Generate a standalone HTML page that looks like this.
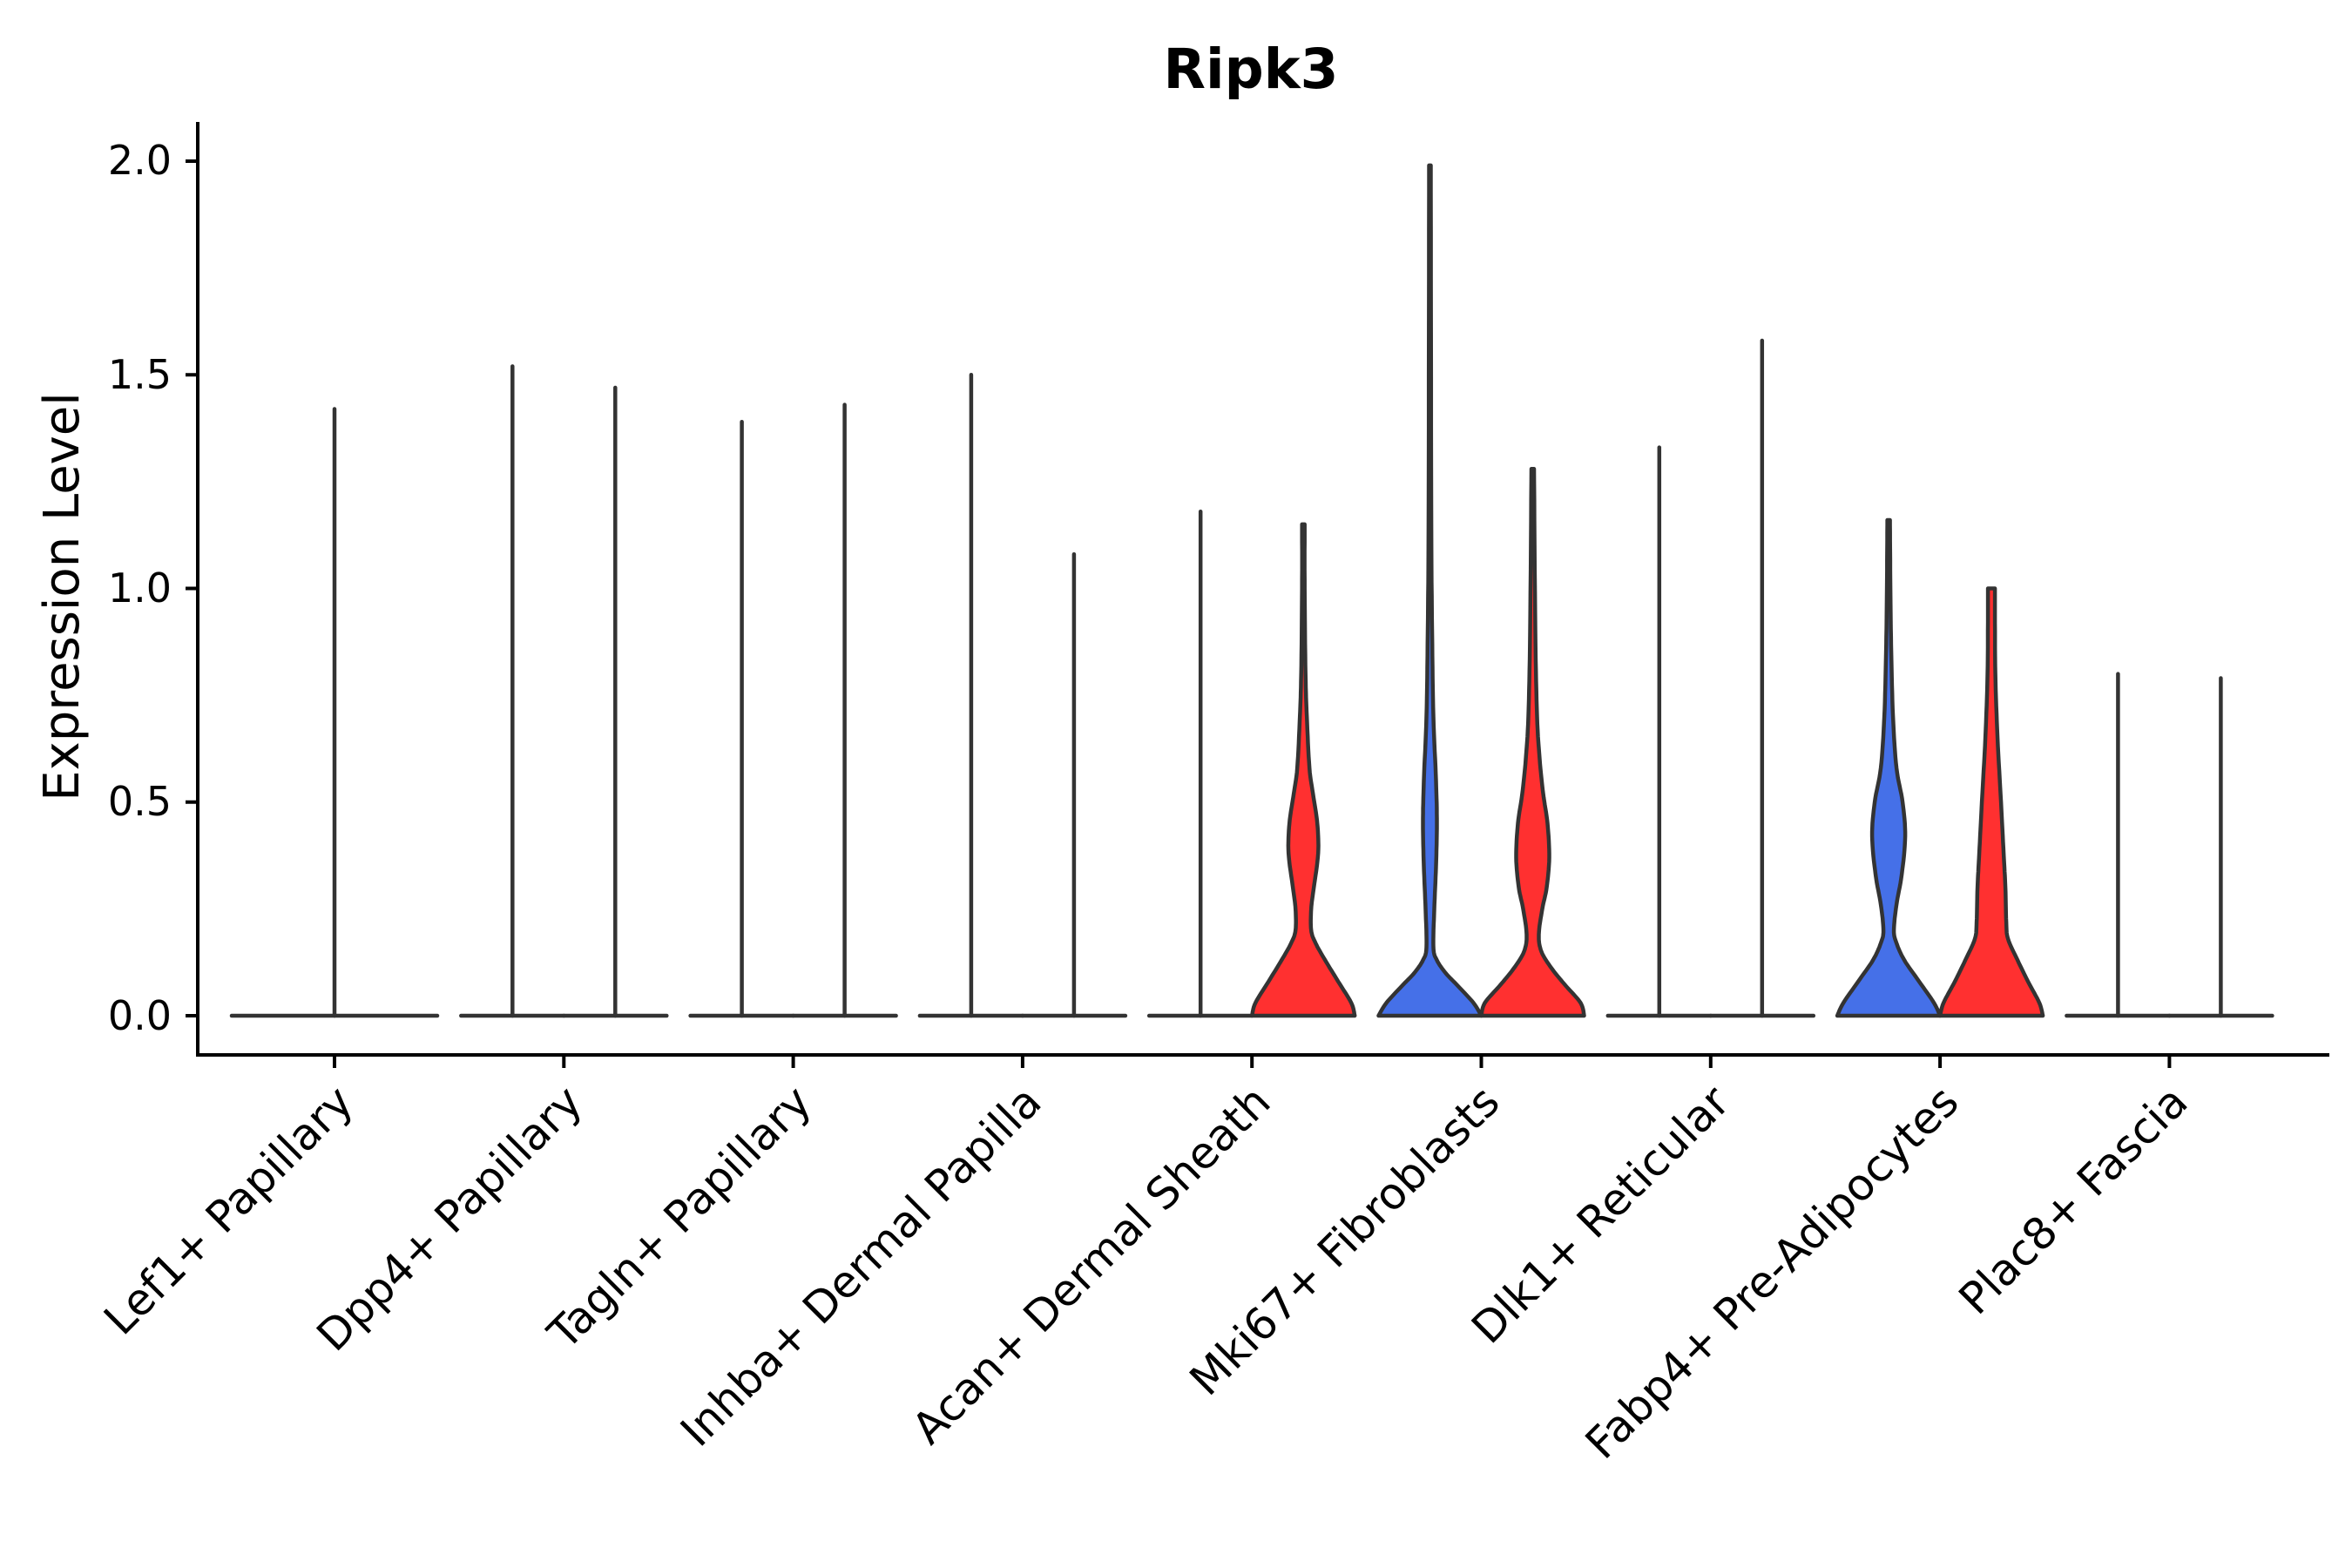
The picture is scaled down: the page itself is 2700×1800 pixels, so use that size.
<!DOCTYPE html>
<html><head><meta charset="utf-8"><style>
html,body{margin:0;padding:0;background:#fff;}
svg{display:block;}
text{font-family:"DejaVu Sans","Liberation Sans",sans-serif;fill:#000;}
</style></head><body>
<svg id="s" width="2700" height="1800" viewBox="0 0 2700 1800" xmlns="http://www.w3.org/2000/svg">
<rect width="2700" height="1800" fill="#fff"/>
<text x="1436" y="101" font-size="63" font-weight="bold" text-anchor="middle">Ripk3</text>
<text transform="translate(90,685) rotate(-90)" font-size="56" text-anchor="middle">Expression Level</text>
<g font-size="46" text-anchor="end">
<text x="197" y="1182">0.0</text>
<text x="197" y="936">0.5</text>
<text x="197" y="691">1.0</text>
<text x="197" y="446">1.5</text>
<text x="197" y="200">2.0</text>
</g>
<g stroke="#000" stroke-width="4">
<line x1="227" y1="140" x2="227" y2="1213"/>
<line x1="225" y1="1211" x2="2674" y2="1211"/>
<line x1="213" y1="1166" x2="227" y2="1166"/>
<line x1="213" y1="920.75" x2="227" y2="920.75"/>
<line x1="213" y1="675.5" x2="227" y2="675.5"/>
<line x1="213" y1="430.25" x2="227" y2="430.25"/>
<line x1="213" y1="185" x2="227" y2="185"/>
</g>
<g id="xt" stroke="#000" stroke-width="4"></g>
<g id="vio"></g>
<g font-size="50" text-anchor="end">
<text transform="translate(408,1268) rotate(-45)">Lef1+ Papillary</text>
<text transform="translate(671,1268) rotate(-45)">Dpp4+ Papillary</text>
<text transform="translate(934,1268) rotate(-45)">Tagln+ Papillary</text>
<text transform="translate(1198,1268) rotate(-45)">Inhba+ Dermal Papilla</text>
<text transform="translate(1461,1268) rotate(-45)">Acan+ Dermal Sheath</text>
<text transform="translate(1724,1268) rotate(-45)">Mki67+ Fibroblasts</text>
<text transform="translate(1988,1268) rotate(-45)">Dlk1+ Reticular</text>
<text transform="translate(2251,1268) rotate(-45)">Fabp4+ Pre-Adipocytes</text>
<text transform="translate(2514,1268) rotate(-45)">Plac8+ Fascia</text>
</g>
</svg>
<script>
(function(){
var NS="http://www.w3.org/2000/svg";
function Y(v){return 1166-490.5*v;}
var xt=document.getElementById('xt'), g=document.getElementById('vio');
function C(i){return 384+263.3*i;}
for(var i=0;i<9;i++){var l=document.createElementNS(NS,'line');l.setAttribute('x1',C(i));l.setAttribute('x2',C(i));l.setAttribute('y1',1211);l.setAttribute('y2',1226);xt.appendChild(l);}
function el(n,a){var e=document.createElementNS(NS,n);for(var k in a)e.setAttribute(k,a[k]);g.appendChild(e);return e;}
var SW=4.5;
function flat(cx,hw,top){
 el('line',{x1:cx-hw,y1:1166,x2:cx+hw,y2:1166,stroke:'#333','stroke-width':SW,'stroke-linecap':'round'});
 el('line',{x1:cx,y1:1166,x2:cx,y2:Y(top),stroke:'#333','stroke-width':SW,'stroke-linecap':'round'});
}
function cr(p0,p1,p2,p3,t){var t2=t*t,t3=t2*t;return 0.5*((2*p1)+(-p0+p2)*t+(2*p0-5*p1+4*p2-p3)*t2+(-p0+3*p1-3*p2+p3)*t3);}
function vio(cx,prof,col){
 var pts=[],n=prof.length;
 for(var k=0;k<n-1;k++){
  var a=prof[Math.max(k-1,0)],b=prof[k],c=prof[k+1],d=prof[Math.min(k+2,n-1)];
  for(var j=0;j<8;j++){var t=j/8;pts.push([cr(a[0],b[0],c[0],d[0],t),Math.max(0.8,cr(a[1],b[1],c[1],d[1],t))]);}
 }
 pts.push(prof[n-1]);
 var s='M'+(cx-pts[0][1])+','+Y(pts[0][0]);
 for(var k=1;k<pts.length;k++)s+='L'+(cx-pts[k][1]).toFixed(1)+','+Y(pts[k][0]).toFixed(1);
 for(var k=pts.length-1;k>=0;k--)s+='L'+(cx+pts[k][1]).toFixed(1)+','+Y(pts[k][0]).toFixed(1);
 s+='Z';
 el('path',{d:s,fill:col,stroke:'#333','stroke-width':SW,'stroke-linejoin':'round'});
}
var B='#4570E8',R='#FF3030';
flat(C(0),118,1.42);
flat(C(1)-59,59,1.52);flat(C(1)+59,59,1.47);
flat(C(2)-59,59,1.39);flat(C(2)+59,59,1.43);
flat(C(3)-59,59,1.50);flat(C(3)+59,59,1.08);
flat(C(4)-59,59,1.18);
vio(C(4)+59,[[0,59],[0.03,55],[0.08,40],[0.13,25],[0.17,14],[0.2,9],[0.25,9],[0.3,12],[0.38,17],[0.45,16],[0.52,11],[0.58,7],[0.7,4],[0.8,2.5],[1.0,1.5],[1.15,1.5]],R);
vio(C(5)-59,[[0,59],[0.03,50],[0.07,32],[0.1,18],[0.13,8],[0.16,4],[0.25,5],[0.35,7],[0.45,8],[0.55,7],[0.7,4],[0.9,2.5],[1.2,1.5],[1.99,1]],B);
vio(C(5)+59,[[0,59],[0.03,55],[0.07,38],[0.11,22],[0.15,10],[0.19,7],[0.25,11],[0.3,16],[0.37,19],[0.45,17],[0.52,12],[0.6,8],[0.7,5],[0.9,3],[1.28,1.5]],R);
flat(C(6)-59,59,1.33);flat(C(6)+59,59,1.58);
vio(C(7)-59,[[0,59],[0.03,52],[0.08,35],[0.13,18],[0.17,9],[0.2,6],[0.26,9],[0.33,15],[0.42,19],[0.5,16],[0.58,9],[0.7,5],[0.85,3],[1.0,2],[1.16,1.5]],B);
vio(C(7)+59,[[0,59],[0.03,55],[0.08,42],[0.13,30],[0.18,19],[0.22,17],[0.3,16],[0.38,14],[0.5,11],[0.65,7],[0.8,4.5],[0.95,4],[1.0,4]],R);
flat(C(8)-59,59,0.80);flat(C(8)+59,59,0.79);
})();
</script>
</body></html>
